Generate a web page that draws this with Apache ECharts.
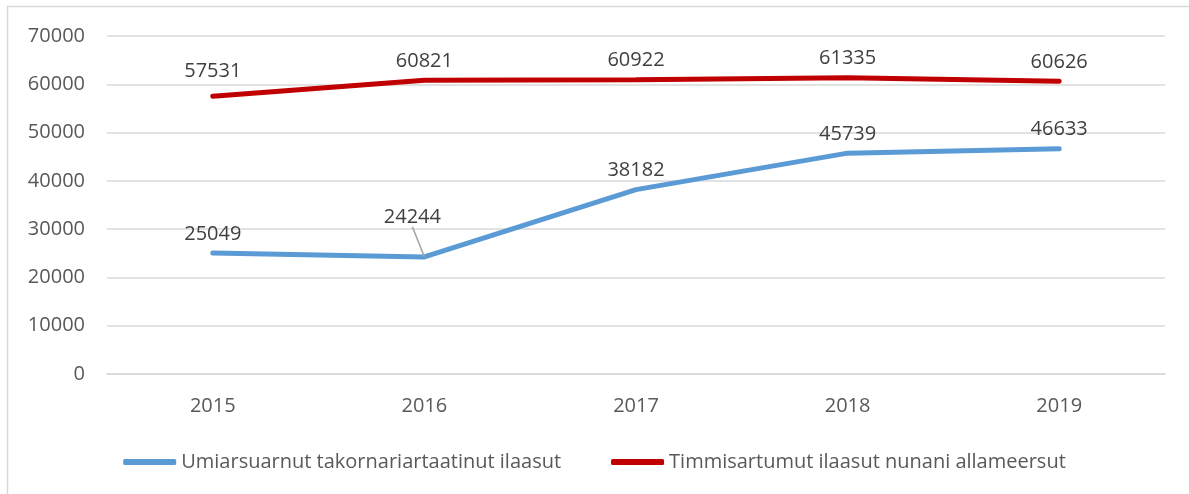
<!DOCTYPE html>
<html lang="kl">
<head>
<meta charset="UTF-8">
<title>Ilaasut</title>
<script src="https://cdn.jsdelivr.net/npm/echarts@6/dist/echarts.min.js"></script>
<style>
  html, body { margin: 0; padding: 0; background: #fff; }
  #main { width: 1189px; height: 494px; }
</style>
</head>
<body>
<div id="main"></div>
<script>
var years = ['2015', '2016', '2017', '2018', '2019'];
var seriesNames = ['Umiarsuarnut takornariartaatinut ilaasut', 'Timmisartumut ilaasut nunani allameersut'];
var cruiseValues = [25049, 24244, 38182, 45739, 46633];
var flightValues = [57531, 60821, 60922, 61335, 60626];

var chart = echarts.init(document.getElementById('main'));
var font = '"Open Sans", sans-serif';

var labelStyle = {
  show: true,
  position: 'top',
  distance: 9,
  color: '#404040',
  fontFamily: font,
  fontSize: 20
};

// 2016 label of the cruise line is pulled up-left with a leader line
var cruiseData = cruiseValues.map(function (v, i) {
  if (i === 1) {
    return { value: v, labelLine: { show: true, lineStyle: { color: '#a6a6a6', width: 1.5 } } };
  }
  return v;
});

chart.setOption({
  animation: false,
  graphic: [{
    type: 'rect',
    shape: { x: 7.5, y: 6.5, width: 1300, height: 600 },
    style: { fill: 'none', stroke: '#d9d9d9', lineWidth: 1.5 },
    silent: true
  }],
  grid: { left: 107, right: 24, top: 36, bottom: 120 },
  legend: {
    bottom: 17,
    left: 'center',
    icon: 'roundRect',
    itemWidth: 53,
    itemHeight: 6,
    itemGap: 50,
    textStyle: { color: '#595959', fontFamily: font, fontSize: 20 },
    data: seriesNames
  },
  xAxis: {
    type: 'category',
    data: years,
    boundaryGap: true,
    axisLine: { lineStyle: { color: '#d9d9d9', width: 1.5 } },
    axisTick: { show: false },
    axisLabel: { color: '#595959', fontFamily: font, fontSize: 20, margin: 22 }
  },
  yAxis: {
    type: 'value',
    min: 0,
    max: 70000,
    interval: 10000,
    axisLine: { show: false },
    axisTick: { show: false },
    axisLabel: {
      color: '#595959', fontFamily: font, fontSize: 20, margin: 22,
      formatter: function (v) { return String(v); }
    },
    splitLine: { lineStyle: { color: '#d9d9d9', width: 1.5 } }
  },
  series: [{
    name: seriesNames[0],
    type: 'line',
    data: cruiseData,
    symbol: 'circle',
    symbolSize: 0.1,
    showSymbol: true,
    lineStyle: { color: '#5b9bd5', width: 5, cap: 'round' },
    itemStyle: { color: '#5b9bd5' },
    label: labelStyle,
    labelLayout: function (p) {
      if (p.dataIndex === 1) return { dx: -12, dy: -21 };
      return {};
    }
  }, {
    name: seriesNames[1],
    type: 'line',
    data: flightValues,
    symbol: 'circle',
    symbolSize: 0.1,
    showSymbol: true,
    lineStyle: { color: '#c00000', width: 5, cap: 'round' },
    itemStyle: { color: '#c00000' },
    label: labelStyle,
    labelLayout: function (p) {
      if (p.dataIndex === 0) return { dy: -6 };
      return {};
    }
  }]
});
</script>
</body>
</html>
